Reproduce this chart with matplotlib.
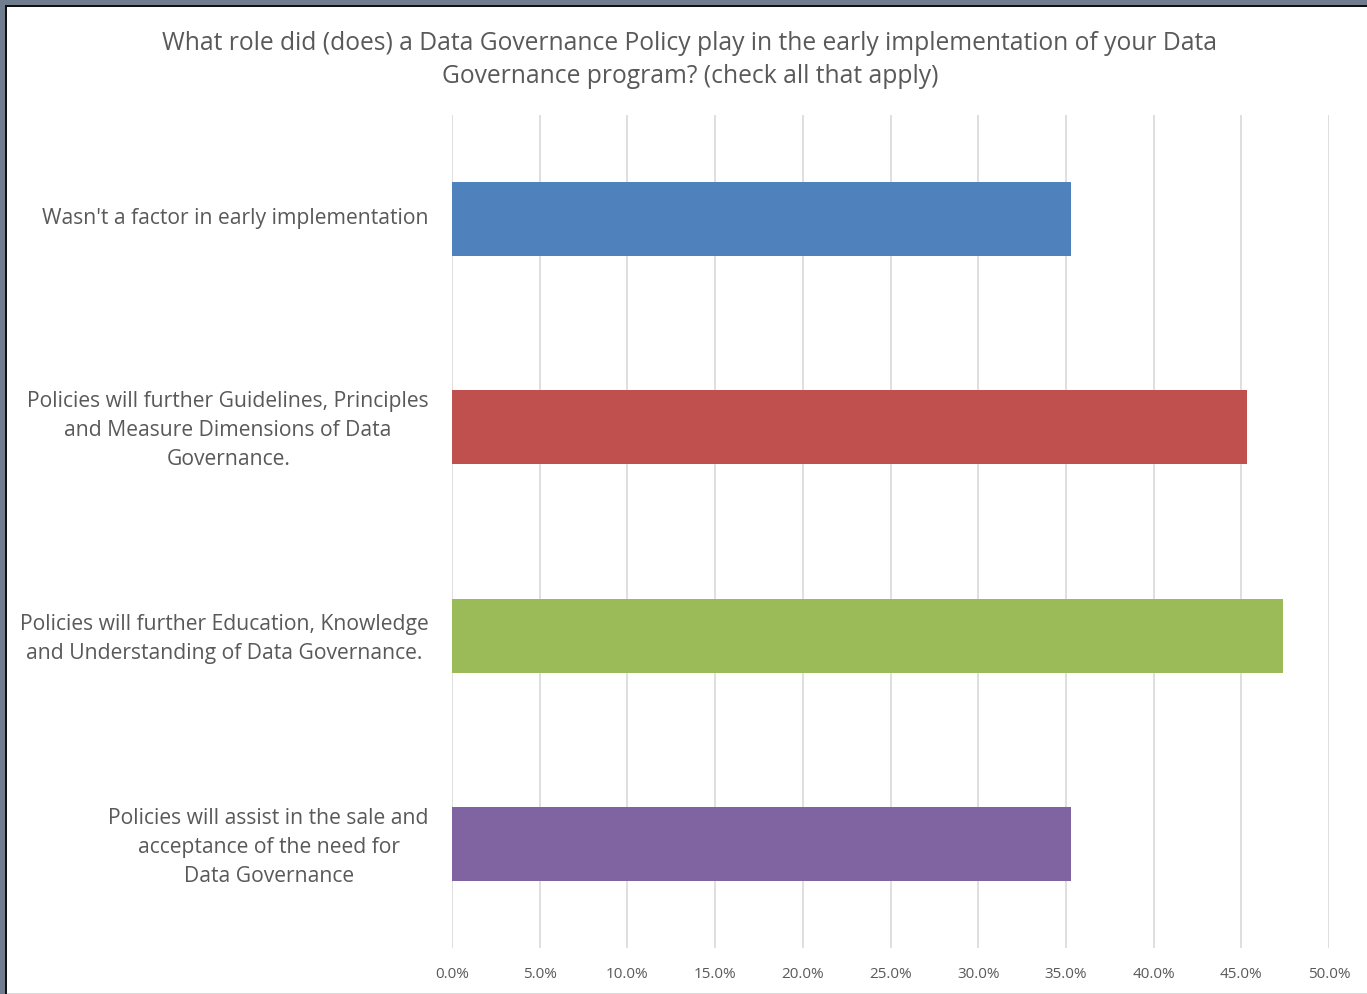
import numpy as np
import matplotlib.pyplot as plt
from matplotlib.patches import Rectangle
from matplotlib.transforms import ScaledTranslation

plt.rcParams['font.family'] = ['Open Sans', 'DejaVu Sans']

categories = [
    "Wasn't a factor in early implementation",
    "Policies will further Guidelines, Principles\nand Measure Dimensions of Data\nGovernance.",
    "Policies will further Education, Knowledge\nand Understanding of Data Governance.",
    "Policies will assist in the sale and\nacceptance of the need for\nData Governance",
]
values = [35.3, 45.3, 47.4, 35.3]  # percent
colors = ["#4f81bd", "#c0504d", "#9bbb59", "#8064a2"]
ticks = np.arange(0, 55, 5)
title = ("What role did (does) a Data Governance Policy play in the early implementation of your Data\n"
         "Governance program? (check all that apply)")

text_col = "#595959"
W, H = 1367, 994
fig = plt.figure(figsize=(W / 100, H / 100), dpi=100)

# frame around the chart (screenshot edge)
fig.patches.append(Rectangle((0, 1 - 5 / H), 1, 5 / H, transform=fig.transFigure,
                             facecolor="#6f7d8f", edgecolor="none", zorder=-2))
fig.patches.append(Rectangle((0, 0), 5 / W, 1, transform=fig.transFigure,
                             facecolor="#6f7d8f", edgecolor="none", zorder=-2))
fig.patches.append(Rectangle((5 / W, 0), 2 / W, 1 - 5 / H, transform=fig.transFigure,
                             facecolor="#111111", edgecolor="none", zorder=-1))
fig.patches.append(Rectangle((5 / W, 1 - 7 / H), 1 - 5 / W, 2 / H, transform=fig.transFigure,
                             facecolor="#111111", edgecolor="none", zorder=-1))
fig.patches.append(Rectangle((7 / W, 0), 1, 1.5 / H, transform=fig.transFigure,
                             facecolor="#d9d9d9", edgecolor="none", zorder=-1))

ax = fig.add_axes([452 / W, 1 - 948 / H, (1329 - 452) / W, (948 - 115) / H])
y = np.arange(len(categories))
ax.barh(y, values, height=0.355, color=colors, zorder=3)

ax.set_xlim(0, 50)
ax.set_ylim(3.5, -0.5)
ax.set_xticks(ticks)
ax.set_xticklabels([f"{t:.1f}%" for t in ticks], fontsize=11, color=text_col)
ax.set_yticks(y)
ax.set_yticklabels(categories, fontsize=15.2, color=text_col, linespacing=1.5)
ax.tick_params(axis="y", length=0, pad=0)
ax.tick_params(axis="x", length=0, pad=14)
for lab in ax.get_yticklabels():
    lab.set_horizontalalignment("right")
    lab.set_multialignment("center")
    lab.set_transform(ax.get_yaxis_transform() +
                      ScaledTranslation(-23 / 100, 3 / 100, fig.dpi_scale_trans))

ax.grid(axis="x", color="#d9d9d9", linewidth=1.2, zorder=0)
for s in ax.spines.values():
    s.set_visible(False)
ax.set_facecolor("none")

fig.text(690 / W, 1 - 60 / H, title, ha="center", va="center", fontsize=17.7,
         color=text_col, linespacing=1.45)

fig.savefig("out.png", dpi=100, facecolor="white")
